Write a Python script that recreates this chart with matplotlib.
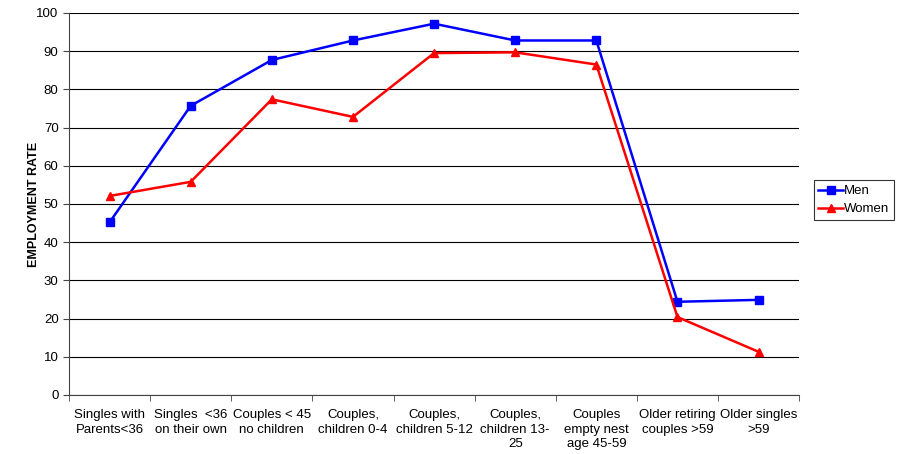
import matplotlib.pyplot as plt
import numpy as np

plt.rcParams['font.family'] = ['Liberation Sans', 'DejaVu Sans']

categories = ['Singles with\nParents<36', 'Singles  <36\non their own', 'Couples < 45\nno children',
              'Couples,\nchildren 0-4', 'Couples,\nchildren 5-12', 'Couples,\nchildren 13-\n25',
              'Couples\nempty nest\nage 45-59', 'Older retiring\ncouples >59', 'Older singles\n>59']
men = [45.2, 75.7, 87.7, 92.8, 97.2, 92.8, 92.8, 24.4, 24.9]
women = [52.1, 55.8, 77.4, 72.8, 89.5, 89.7, 86.5, 20.4, 11.3]

fig = plt.figure(figsize=(9.07, 4.54), dpi=100)
ax = fig.add_axes([0.0761, 0.130, 0.805, 0.8414])

x = np.arange(len(categories))
ax.plot(x, men, color='#0000ff', lw=1.8, marker='s', ms=5.5, label='Men')
ax.plot(x, women, color='#ff0000', lw=1.8, marker='^', ms=5.5, label='Women')

ax.set_xlim(-0.5, len(categories) - 0.5)
ax.set_ylim(0, 100)
ax.set_yticks(range(0, 101, 10))
ax.yaxis.grid(True, color='black', lw=0.8)
ax.set_axisbelow(True)

# category labels sit between the tick marks
ax.set_xticks(x)
ax.set_xticklabels(categories, fontsize=9.5, linespacing=1.3)
ax.tick_params(axis='x', which='major', length=0, pad=10)
ax.set_xticks(np.arange(-0.5, len(categories), 1), minor=True)
ax.tick_params(axis='x', which='minor', length=4, color='#444444')
ax.tick_params(axis='y', length=4, color='#444444', labelsize=9.5)

for s in ['top', 'right']:
    ax.spines[s].set_visible(False)
for s in ['left', 'bottom']:
    ax.spines[s].set_color('#444444')

ax.set_ylabel('EMPLOYMENT RATE', fontsize=9, fontweight='bold')
ax.yaxis.set_label_coords(-0.04, 0.5)

leg = ax.legend(loc='center left', bbox_to_anchor=(1.02, 0.51), fontsize=9.5,
                frameon=True, fancybox=False, edgecolor='black', handlelength=1.9,
                handletextpad=0.05, borderpad=0.35, labelspacing=0.45, borderaxespad=0)
leg.get_frame().set_linewidth(0.8)

fig.savefig('out.png', dpi=100)
